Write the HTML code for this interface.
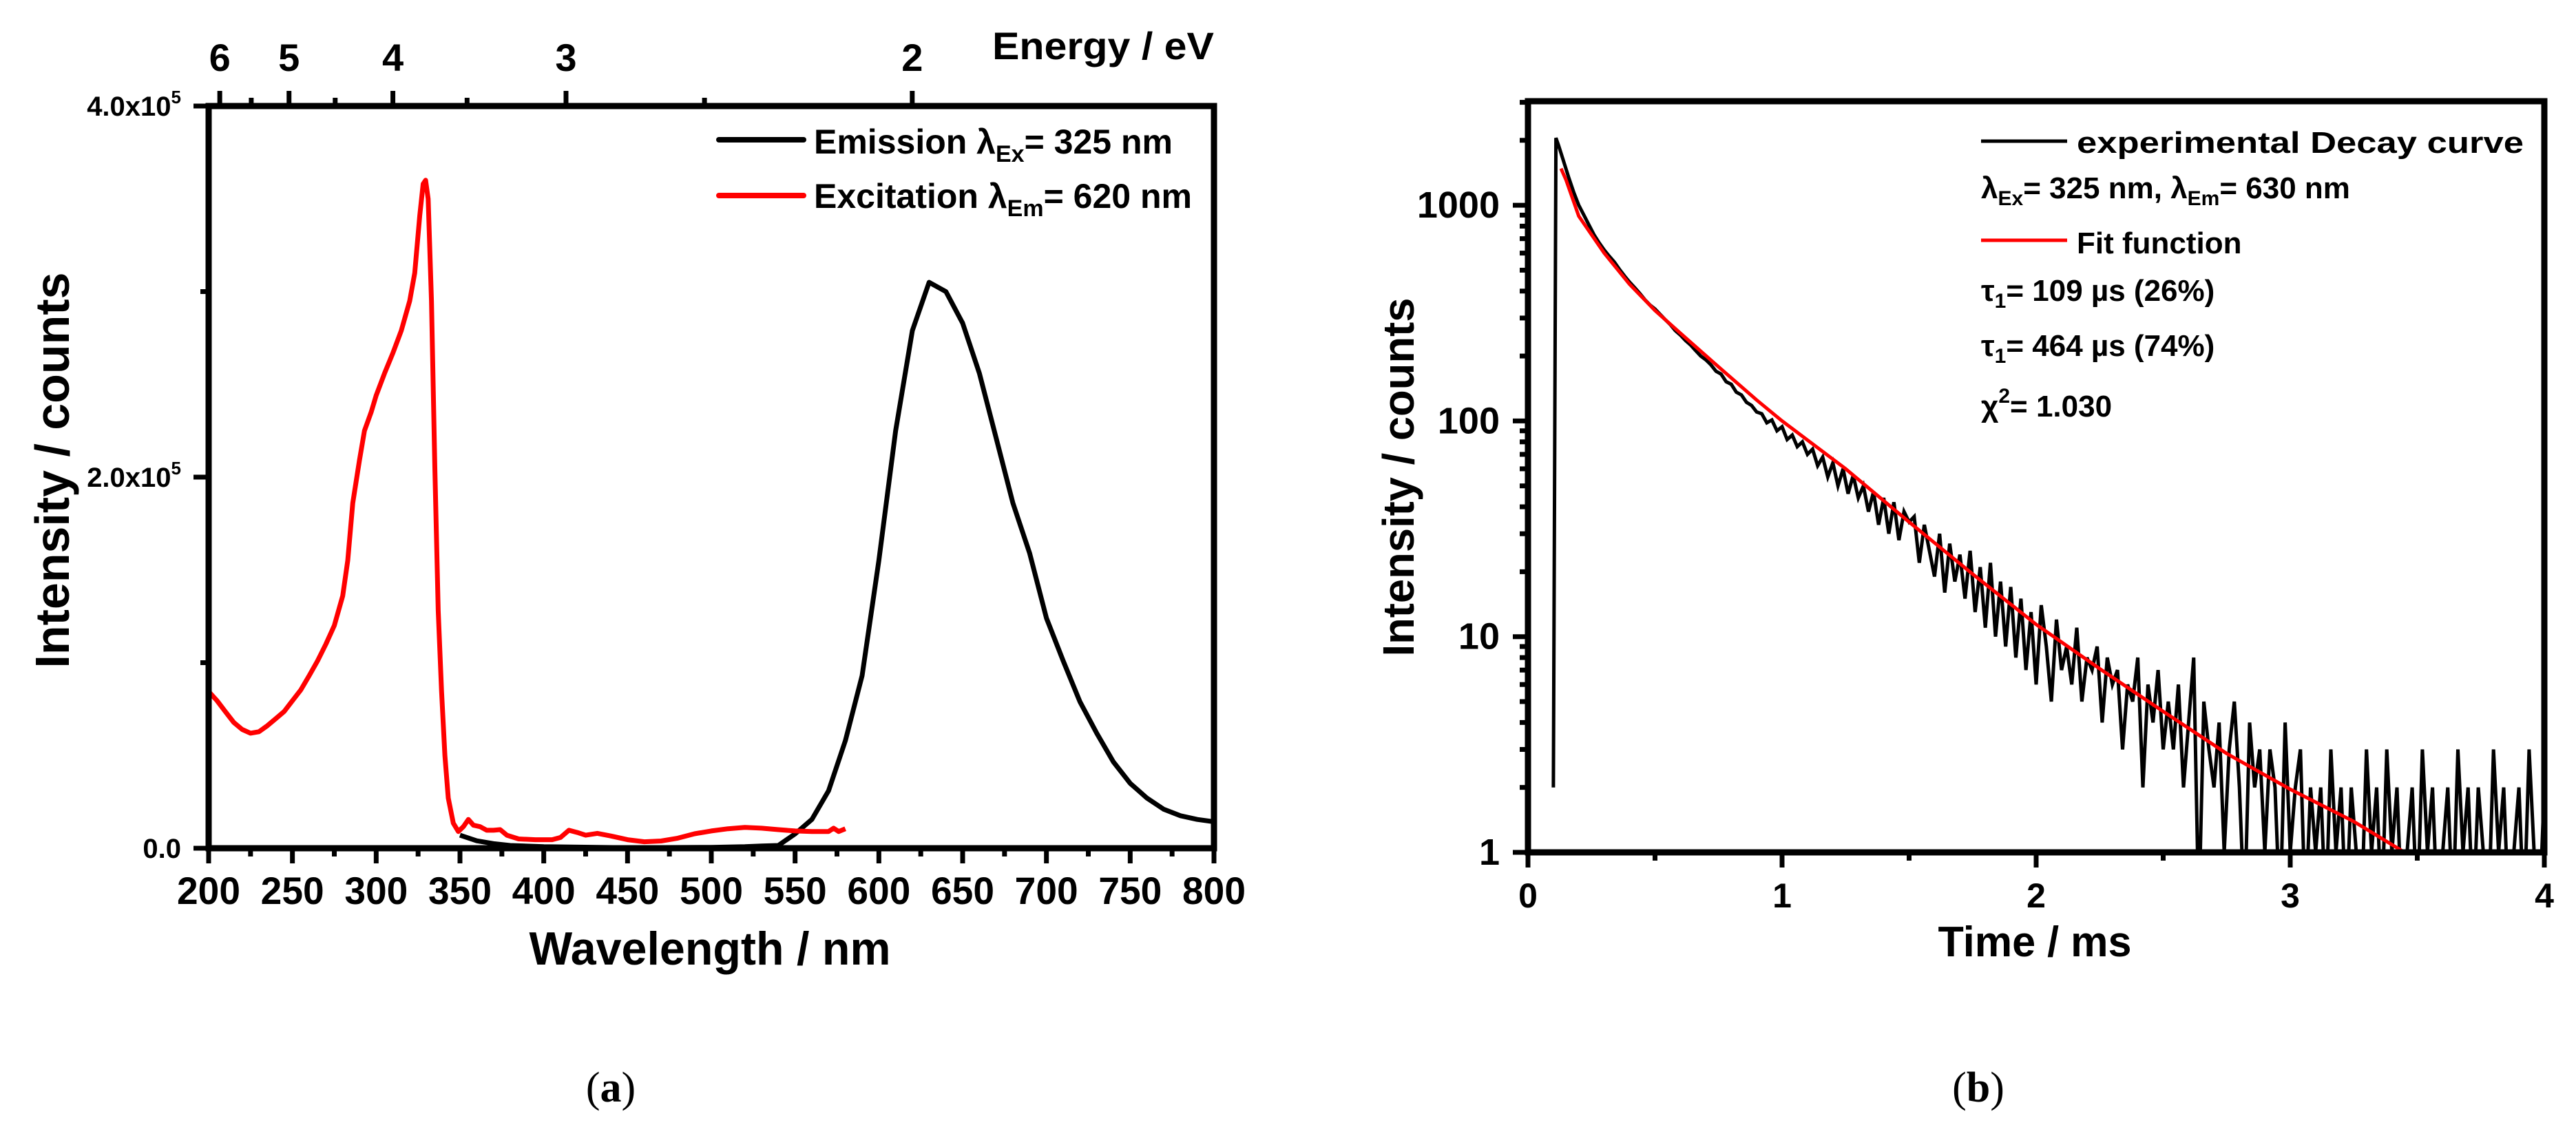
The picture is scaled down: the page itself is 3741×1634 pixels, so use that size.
<!DOCTYPE html>
<html><head><meta charset="utf-8">
<style>
html,body{margin:0;padding:0;background:#fff;}
svg{display:block;font-family:"Liberation Sans",Arial,sans-serif;font-weight:bold;}
</style></head>
<body>
<svg id="fig" width="3741" height="1634" viewBox="0 0 3741 1634" xmlns="http://www.w3.org/2000/svg">
<defs>
<clipPath id="clipA"><rect x="303" y="154" width="1460" height="1078"/></clipPath>
<clipPath id="clipB"><rect x="2219" y="147" width="1476" height="1091"/></clipPath>
</defs>
<g id="panelA"></g>
<g id="panelB"></g>
</svg>
<script>
// ---------- Panel (a) data ----------
const emWl = [350,360,370,380,400,450,500,520,530,540,550,560,570,580,590,600,610,620,630,640,650,660,670,680,690,700,710,720,730,740,750,760,770,780,790,800];
const emVal = [7000,4000,2500,1500,800,300,500,800,1200,1500,7750,15500,31000,58000,93000,155000,225000,279000,305000,300000,283000,256000,221000,186000,159000,124000,101000,79000,62000,46500,35000,27000,21000,17500,15500,14300];
const exWl = [200,205,210,215,220,225,230,235,240,245,250,255,260,265,270,275,280,283,286,290,293,297,300,305,310,315,320,323,326,328,329.5,331,333,335,337,339,341,343,346,349,352,355,358,362,366,370,374,378,385,395,405,410,415,420,425,432,440,450,460,470,480,490,500,510,520,530,540,550,560,570,573,576,580];
const exVal = [84500,79500,73600,67800,64000,62000,62800,66000,69800,73600,79500,85300,93000,101000,110000,120000,136000,155000,186000,209000,225000,235000,244000,256000,267000,279000,295000,310000,341000,358000,360000,350000,295000,205000,128000,85000,50000,27000,13500,9000,11600,15500,12400,11600,9700,9700,10000,7000,5000,4600,4600,5800,9700,8500,7000,8000,6600,4600,3500,3900,5400,7800,9300,10500,11200,10800,10000,9300,9000,9000,10800,9000,10500];
const xTicksA = [200,250,300,350,400,450,500,550,600,650,700,750,800];
const yTicksA = [0,200000,400000];
const yTickLabelsA = ["0.0","2.0x10","4.0x10"];
const eTicks = [6,5,4,3,2];
const eMinor = [5.5,4.5,3.5,2.5];

// ---------- Panel (b) data ----------
const decT = [0.10,0.11,0.12,0.14,0.16,0.18,0.20,0.22,0.24,0.26,0.28,0.30,
0.32,0.34,0.36,0.38,0.40,0.42,0.44,0.46,0.48,0.50,
0.52,0.54,0.56,0.58,0.60,0.62,0.64,0.66,0.68,0.70,
0.72,0.74,0.76,0.78,0.80,0.82,0.84,0.86,0.88,0.90,
0.92,0.94,0.96,0.98,1.00,1.02,1.04,1.06,1.08,1.10,
1.12,1.14,1.16,1.18,1.20,1.22,1.24,1.26,1.28,1.30,
1.32,1.34,1.36,1.38,1.40,1.42,1.44,1.46,1.48,1.50,
1.52,1.54,1.56,1.58,1.60,1.62,1.64,1.66,1.68,1.70,
1.72,1.74,1.76,1.78,1.80,1.82,1.84,1.86,1.88,1.90,
1.92,1.94,1.96,1.98,2.00,2.02,2.04,2.06,2.08,2.10,
2.12,2.14,2.16,2.18,2.20,2.22,2.24,2.26,2.28,2.30,
2.32,2.34,2.36,2.38,2.40,2.42,2.44,2.46,2.48,2.50,
2.52,2.54,2.56,2.58,2.60,2.62,2.64,2.66,2.68,2.70,
2.72,2.74,2.76,2.78,2.80,2.82,2.84,2.86,2.88,2.90,
2.92,2.94,2.96,2.98,3.00,3.02,3.04,3.06,3.08,3.10,
3.12,3.14,3.16,3.18,3.20,3.22,3.24,3.26,3.28,3.30,
3.32,3.34,3.36,3.38,3.40,3.42,3.44,3.46,3.48,3.50,
3.52,3.54,3.56,3.58,3.60,3.62,3.64,3.66,3.68,3.70,
3.72,3.74,3.76,3.78,3.80,3.82,3.84,3.86,3.88,3.90,
3.92,3.94,3.96,3.98,4.00];
const decVal = [2,2050,1900,1600,1350,1150,1000,900,810,730,670,620,
580,545,505,470,440,415,390,365,345,330,
312,295,280,262,250,236,225,212,200,192,
182,170,165,152,148,136,132,122,118,110,
108,98,101,90,94,82,86,76,80,70,
74,62,68,55,64,50,60,46,56,44,
50,38,47,33,44,30,42,28,38,34,
36,22,33,25,19,30,16,27,18,24,
15,25,13,21,11,22,10,18,9,17,
8,15,7,13,6,14,9,5,12,7,
9,6,11,5,8,7,9,4,8,6,
7,3,6,5,8,2,6,4,7,3,
5,3,6,2,4,8,0.5,5,3,2,
4,1,3,5,2,0.5,4,2,3,1,
3,2,0.5,4,1,2,3,0.5,2,1,
2,0.5,3,1,2,0.5,2,1,0.5,3,
1,2,0.5,3,1,2,0.5,1,2,0.5,
3,1,2,0.5,1,2,0.5,3,1,2,
0.5,2,1,0.5,3,1,2,0.5,1,2,
0.5,3,1,0.5,2];
const fitT = [0.13,0.15,0.2,0.3,0.4,0.5,0.6,0.75,0.9,1.0,1.25,1.5,1.75,2.0,2.25,2.5,2.75,3.0,3.25,3.45];
const fitVal = [1480,1310,890,600,430,325,255,178,125,100,60,34,19.5,11.4,7.1,4.5,2.87,1.96,1.39,1.0];
const xTicksB = [0,1,2,3,4];
const yTicksB = [1,10,100,1000];
const yTickLabelsB = ["1","10","100","1000"];

// ---------- helpers ----------
const NS = "http://www.w3.org/2000/svg";
function mk(parent, tag, attrs){
  const el = document.createElementNS(NS, tag);
  for (const k in attrs) el.setAttribute(k, attrs[k]);
  parent.appendChild(el);
  return el;
}
function linePath(xs, ys, fx, fy){
  let d = "";
  for (let i=0;i<xs.length;i++){ d += (i?"L":"M") + fx(xs[i]).toFixed(1) + "," + fy(ys[i]).toFixed(1); }
  return d;
}

// ---------- Panel A ----------
const A = document.getElementById("panelA");
const axL=303, axR=1763, axT=154, axB=1232;
const xA = v => axL + (v-200)/600*(axR-axL);
const yA = v => axB - v/400000*(axB-axT);
const eToWl = e => 1239.84/e;

const emis = mk(A,"path",{d:linePath(emWl,emVal,xA,yA),fill:"none",stroke:"#000","stroke-width":7,"stroke-linejoin":"round","clip-path":"url(#clipA)"});


const exc = mk(A,"path",{d:linePath(exWl,exVal,xA,yA),fill:"none",stroke:"#ff0000","stroke-width":7,"stroke-linejoin":"round","clip-path":"url(#clipA)"});



const frameA = mk(A,"rect",{x:axL,y:axT,width:axR-axL,height:axB-axT,fill:"none",stroke:"#000","stroke-width":9});



for (let v=200; v<=800; v+=25){
  const major = (v%50===0);
  const t = mk(A,"line",{x1:xA(v),x2:xA(v),y1:axB,y2:axB+(major?22:12),stroke:"#000","stroke-width":7});
  
  
}
xTicksA.forEach(v=>{
  const t = mk(A,"text",{x:xA(v),y:1313,"text-anchor":"middle","font-size":56,textLength:92,lengthAdjust:"spacingAndGlyphs"});
  t.textContent = v;
  
  
});
for (let v=0; v<=400000; v+=100000){
  const major = (v%200000===0);
  const t = mk(A,"line",{x1:axL,x2:axL-(major?22:12),y1:yA(v),y2:yA(v),stroke:"#000","stroke-width":7});
  
  
}
yTicksA.forEach((v,i)=>{
  const t = mk(A,"text",{x:263,y:yA(v)+14,"text-anchor":"end","font-size":40});
  if (i===0){ t.textContent = yTickLabelsA[i]; }
  else { t.innerHTML = yTickLabelsA[i] + '<tspan font-size="26" dy="-18">5</tspan>'; }
  
  
});
eTicks.forEach(e=>{
  const t = mk(A,"line",{x1:xA(eToWl(e)),x2:xA(eToWl(e)),y1:axT,y2:axT-22,stroke:"#000","stroke-width":7});
  
  
  const l = mk(A,"text",{x:xA(eToWl(e)),y:103,"text-anchor":"middle","font-size":56});
  l.textContent = e;
  
  
});
eMinor.forEach(e=>{
  const t = mk(A,"line",{x1:xA(eToWl(e)),x2:xA(eToWl(e)),y1:axT,y2:axT-12,stroke:"#000","stroke-width":7});
  
  
});
let tt = mk(A,"text",{x:1441,y:86,"font-size":56,textLength:322,lengthAdjust:"spacingAndGlyphs"});
tt.textContent = "Energy / eV";


tt = mk(A,"text",{x:1031,y:1401,"text-anchor":"middle","font-size":68,textLength:525,lengthAdjust:"spacingAndGlyphs"});
tt.textContent = "Wavelength / nm";


tt = mk(A,"text",{x:0,y:0,"text-anchor":"middle","font-size":70,textLength:575,lengthAdjust:"spacingAndGlyphs",transform:"translate(100,683) rotate(-90)"});
tt.textContent = "Intensity / counts";


let lg = mk(A,"line",{x1:1044,x2:1167,y1:203,y2:203,stroke:"#000","stroke-width":8,"stroke-linecap":"round"});


lg = mk(A,"text",{x:1182,y:223,"font-size":50});
lg.innerHTML = 'Emission λ<tspan font-size="34" dy="12">Ex</tspan><tspan dy="-12">= 325 nm</tspan>';


lg = mk(A,"line",{x1:1044,x2:1167,y1:284,y2:284,stroke:"#ff0000","stroke-width":8,"stroke-linecap":"round"});


lg = mk(A,"text",{x:1182,y:302,"font-size":50});
lg.innerHTML = 'Excitation λ<tspan font-size="34" dy="12">Em</tspan><tspan dy="-12">= 620 nm</tspan>';


tt = mk(A,"text",{x:887,y:1600,"text-anchor":"middle","font-size":62,"font-family":"Liberation Serif, serif","font-weight":"normal"});
tt.innerHTML = '(<tspan font-weight="bold">a</tspan>)';



// ---------- Panel B ----------
const B = document.getElementById("panelB");
const bL=2219, bR=3695, bT=147, bB=1238;
const dec = 313.3;
const xB = v => bL + v/4*(bR-bL);
const yB = v => bB - Math.log10(v)*dec;

const expC = mk(B,"path",{d:linePath(decT,decVal,xB,yB),fill:"none",stroke:"#000","stroke-width":5,"stroke-linejoin":"miter","clip-path":"url(#clipB)"});


const fitC = mk(B,"path",{d:linePath(fitT,fitVal,xB,yB),fill:"none",stroke:"#ff0000","stroke-width":5,"stroke-linejoin":"round","clip-path":"url(#clipB)"});



const frameB = mk(B,"rect",{x:bL,y:bT,width:bR-bL,height:bB-bT,fill:"none",stroke:"#000","stroke-width":9});


for (let v=0; v<=4.001; v+=0.5){
  const major = Math.abs(v-Math.round(v))<1e-6;
  const t = mk(B,"line",{x1:xB(v),x2:xB(v),y1:bB,y2:bB+(major?22:12),stroke:"#000","stroke-width":7});
  
  
}
xTicksB.forEach(v=>{
  const t = mk(B,"text",{x:xB(v),y:1318,"text-anchor":"middle","font-size":50});
  t.textContent = v;
  
  
});
for (let p=0; p<=3; p++){
  for (let m=1; m<=9; m++){
    const v = m*Math.pow(10,p);
    if (yB(v) < bT) continue;
    const t = mk(B,"line",{x1:bL,x2:bL-(m===1?22:12),y1:yB(v),y2:yB(v),stroke:"#000","stroke-width":7});
    
    
  }
}
yTicksB.forEach((v,i)=>{
  const t = mk(B,"text",{x:2178,y:yB(v)+18,"text-anchor":"end","font-size":54});
  t.textContent = yTickLabelsB[i];
  
  
});
tt = mk(B,"text",{x:2955,y:1389,"text-anchor":"middle","font-size":62,textLength:281,lengthAdjust:"spacingAndGlyphs"});
tt.textContent = "Time / ms";


tt = mk(B,"text",{x:0,y:0,"text-anchor":"middle","font-size":64,textLength:521,lengthAdjust:"spacingAndGlyphs",transform:"translate(2053,693) rotate(-90)"});
tt.textContent = "Intensity / counts";


lg = mk(B,"line",{x1:2877,x2:3002,y1:205,y2:205,stroke:"#000","stroke-width":5});


lg = mk(B,"text",{x:3016,y:222,"font-size":44,textLength:649,lengthAdjust:"spacingAndGlyphs"});
lg.textContent = "experimental Decay curve";


lg = mk(B,"text",{x:2877,y:288,"font-size":44});
lg.innerHTML = 'λ<tspan font-size="30" dy="10">Ex</tspan><tspan dy="-10">= 325 nm, λ</tspan><tspan font-size="30" dy="10">Em</tspan><tspan dy="-10">= 630 nm</tspan>';


lg = mk(B,"line",{x1:2877,x2:3002,y1:349,y2:349,stroke:"#ff0000","stroke-width":5});


lg = mk(B,"text",{x:3016,y:368,"font-size":44});
lg.textContent = "Fit function";


lg = mk(B,"text",{x:2877,y:437,"font-size":44});
lg.innerHTML = 'τ<tspan font-size="30" dy="10">1</tspan><tspan dy="-10">= 109 µs (26%)</tspan>';


lg = mk(B,"text",{x:2877,y:517,"font-size":44});
lg.innerHTML = 'τ<tspan font-size="30" dy="10">1</tspan><tspan dy="-10">= 464 µs (74%)</tspan>';


lg = mk(B,"text",{x:2877,y:605,"font-size":44});
lg.innerHTML = 'χ<tspan font-size="30" dy="-20">2</tspan><tspan dy="20">= 1.030</tspan>';


tt = mk(B,"text",{x:2873,y:1600,"text-anchor":"middle","font-size":62,"font-family":"Liberation Serif, serif","font-weight":"normal"});
tt.innerHTML = '(<tspan font-weight="bold">b</tspan>)';


</script>
</body></html>
